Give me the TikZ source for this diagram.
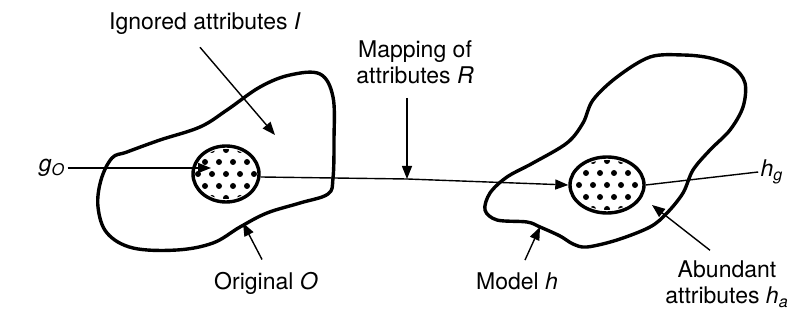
\documentclass[tikz,border=0pt]{standalone}
\usepackage{fontspec}
\setsansfont{TeX Gyre Heros}
\usepackage{tikz}
\usetikzlibrary{arrows.meta,shapes.geometric}
\newcommand{\lbl}[2]{\textit{#1}\textsubscript{\textit{#2}}}
\tikzset{
  blob/.style={line width=1.7pt,line join=round},
  core/.style={ellipse,draw,line width=1.7pt,inner sep=0pt},
  pointer/.style={line width=0.7pt,-{Triangle[length=6.5pt,width=5pt]}},
  tag/.style={font=\sffamily\fontsize{11.5}{13}\selectfont,align=center,inner sep=1pt}
}

\begin{document}
\begin{tikzpicture}[x=0.5pt,y=-0.5pt]
  \useasboundingbox (0,0) rectangle (796,324);
  % outlines of original and model
  \draw[blob] plot[smooth cycle,tension=0.6] coordinates {
    (112,158) (127,152) (160,140) (200,127) (227,110) (260,87) (290,75)
    (320,74) (333,97) (334,140) (333,178) (328,194) (300,203) (267,213)
    (240,227) (213,243) (177,250) (133,248) (107,233) (98,207) (101,180)};
  \draw[blob] plot[smooth cycle,tension=0.55] coordinates {
    (650,57) (683,55) (710,58) (733,67) (745,83) (743,107) (730,130)
    (710,150) (693,170) (683,193) (667,213) (650,227) (617,240) (587,247)
    (573,244) (560,236) (540,227) (527,222) (497,220) (485,210) (490,193)
    (507,177) (533,163) (567,143) (583,123) (593,100) (617,77)};
  % dotted kernels
  \node[core,minimum width=33pt,minimum height=28pt] (origG) at (226,174) {};
  \node[core,minimum width=37pt,minimum height=28pt] (modelG) at (607,185) {};
  \begin{scope}
    \clip (origG.center) ellipse [x radius=15.5pt,y radius=12.5pt];
    \foreach \i in {-3,...,3}
      \foreach \j in {-2,...,2}
        \fill ({226+14*\i+7*mod(\j+2,2)},{174+12*\j}) circle (1.5pt);
  \end{scope}
  \begin{scope}
    \clip (modelG.center) ellipse [x radius=17.5pt,y radius=12.5pt];
    \foreach \i in {-3,...,3}
      \foreach \j in {-2,...,2}
        \fill ({607+14*\i+7*mod(\j+2,2)},{185+12*\j}) circle (1.5pt);
  \end{scope}
  % labels
  \node[tag] (ignored) at (205,24) {Ignored attributes \textit{I}};
  \node[tag] (mapping) at (415,62) {Mapping of\\attributes \textit{R}};
  \node[tag] (original) at (266,283) {Original \textit{O}};
  \node[tag] (model) at (517,281) {Model \textit{h}};
  \node[tag] (abundant) at (727,284) {Abundant\\attributes \lbl{h}{a}};
  \node[tag] (gO) at (52,168) {\lbl{g}{O}};
  \node[tag] (hg) at (772,172) {\lbl{h}{g}};
  % anchor points
  \coordinate (gOtip) at (211,168);
  \coordinate (ignoredtip) at (275,135);
  \coordinate (maptip) at (407,179);
  \coordinate (origtip) at (243,223);
  \coordinate (modeltip) at (540,227);
  \coordinate (abundtip) at (652,205);
  % connectors
  \draw[pointer] (gO.east) -- (gOtip);
  \draw[line width=0.7pt] (origG.east) ++(0,3) -- (maptip);
  \draw[pointer] (maptip) -- (modelG.west);
  \draw[line width=0.7pt] (modelG.east) -- (hg.west);
  \draw[pointer] (ignored.south) ++(-5,10) -- (ignoredtip);
  \draw[pointer] (mapping.south) ++(-8,12) -- (maptip);
  \draw[pointer] (original.north) ++(-4,-10) -- (origtip);
  \draw[pointer] (model.north) ++(8,-10) -- (modeltip);
  \draw[pointer] (abundant.north) ++(-17,-8) -- (abundtip);
\end{tikzpicture}
\end{document}
